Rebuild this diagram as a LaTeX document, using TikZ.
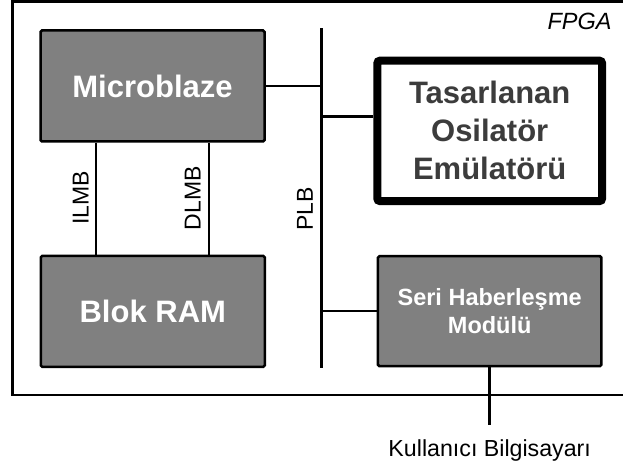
\documentclass[tikz,border=0pt]{standalone}
\usepackage{fontspec}
\setmainfont{Liberation Sans}
\usetikzlibrary{calc}
\definecolor{boxgray}{HTML}{808080}
\definecolor{txtdark}{HTML}{3C3C3C}
\begin{document}
\begin{tikzpicture}[x=1pt,y=-1pt,
  wire/.style={draw=black, line width=2.5pt},
  graybox/.style={draw=black, line width=2.5pt, fill=boxgray, rounded corners=1.5pt,
    text=white, inner sep=0pt, align=center,
    minimum width=224pt, minimum height=111pt},
  bigfont/.style={font=\bfseries\fontsize{31}{38}\selectfont},
  midfont/.style={font=\bfseries\fontsize{23.5}{28.3}\selectfont},
  lblfont/.style={font=\fontsize{23}{27}\selectfont, inner sep=0pt},
  thickbox/.style={draw=black, line width=8pt, fill=white, rounded corners=2.5pt,
    text=txtdark, inner sep=0pt, align=center,
    minimum width=224.7pt, minimum height=140.3pt}
]
\useasboundingbox (0,0) rectangle (623,462);
\fill[white] (0,0) rectangle (623,462);

% FPGA frame (open on the right)
\draw[wire] (640,1.5) -- (12.3,1.5) -- (12.3,395) -- (640,395);
\node[font=\itshape\fontsize{23.5}{28}\selectfont, inner sep=0pt, anchor=base east] (fpga) at (611.7,29.1) {FPGA};

% blocks
\node[graybox, bigfont] (mb) at (152.5,86) {Microblaze};
\node[graybox, bigfont] (ram) at (152.8,311.4) {Blok RAM};
\node[thickbox, bigfont] (tas) at (489.7,130.9) {Tasarlanan\\Osilatör\\Emülatörü};
\node[graybox, midfont, minimum width=223.5pt, minimum height=110pt] (seri) at (489.7,311.2) {Seri Haberleşme\\Modülü};

% PLB bus
\coordinate (plbtop) at (321.7,28.3);
\coordinate (plbbot) at (321.7,368.3);
\coordinate (tasy) at (0,116.7);
\draw[wire] (plbtop) -- (plbbot);
\draw[wire] (mb.east) -- (mb.east -| plbtop);
\draw[wire] (tas.west |- tasy) -- (plbtop |- tasy);
\draw[wire] (seri.west) -- (seri.west -| plbtop);

% LMB buses
\coordinate (ilmbtop) at ($(mb.south west)!0.25!(mb.south east)$);
\coordinate (dlmbtop) at ($(mb.south west)!0.75!(mb.south east)$);
\draw[wire] (ilmbtop) -- (ilmbtop |- ram.north);
\draw[wire] (dlmbtop) -- (dlmbtop |- ram.north);

\node[lblfont, rotate=90] (ilmb) at (80.7,198) {ILMB};
\node[lblfont, rotate=90] (dlmb) at (192.7,198.3) {DLMB};
\node[lblfont, rotate=90] (plb) at (305,209.2) {PLB};

% user computer
\node[font=\fontsize{23.2}{28}\selectfont, inner xsep=0pt, inner ysep=14.6pt, anchor=base] (kb) at (489.7,456.6) {Kullanıcı Bilgisayarı};
\draw[wire] (seri.south) -- (kb.north);
\end{tikzpicture}
\end{document}
